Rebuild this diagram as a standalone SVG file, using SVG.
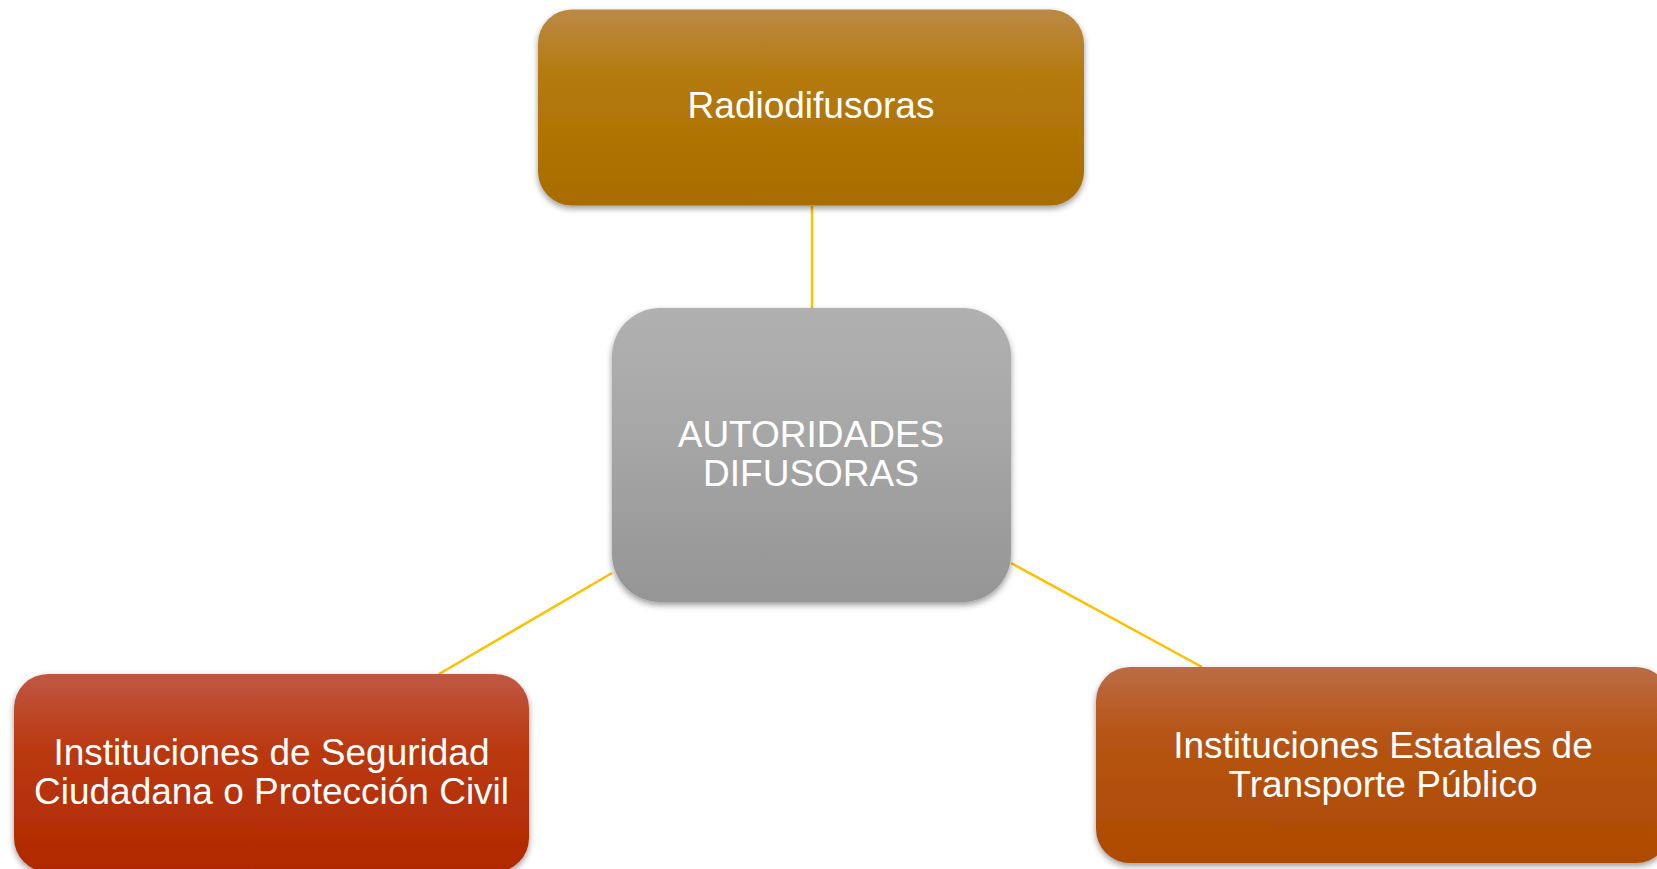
<svg xmlns="http://www.w3.org/2000/svg" width="1657" height="869" viewBox="0 0 1657 869">
<style>
.lbl{font-family:"Liberation Sans",Arial,sans-serif;font-size:37px;fill:#ffffff;text-anchor:middle}
.conn{stroke:#FFC000;stroke-width:2.5;fill:none}
</style>
<defs>
<linearGradient id="gTop" x1="0" y1="0" x2="0" y2="1">
<stop offset="0" stop-color="#BB8946"/><stop offset="0.35" stop-color="#B47A0A"/><stop offset="1" stop-color="#A86C00"/>
</linearGradient>
<linearGradient id="gMid" x1="0" y1="0" x2="0" y2="1">
<stop offset="0" stop-color="#B0B0B0"/><stop offset="0.35" stop-color="#A9A9A9"/><stop offset="1" stop-color="#959595"/>
</linearGradient>
<linearGradient id="gLeft" x1="0" y1="0" x2="0" y2="1">
<stop offset="0" stop-color="#C05844"/><stop offset="0.35" stop-color="#BB3A12"/><stop offset="1" stop-color="#B02800"/>
</linearGradient>
<linearGradient id="gRight" x1="0" y1="0" x2="0" y2="1">
<stop offset="0" stop-color="#BC6C46"/><stop offset="0.35" stop-color="#B65414"/><stop offset="1" stop-color="#AE4A00"/>
</linearGradient>
<filter id="sh" x="-10%" y="-10%" width="120%" height="130%">
<feDropShadow dx="0" dy="3" stdDeviation="3" flood-color="#000" flood-opacity="0.4"/>
</filter>
</defs>
<rect width="1657" height="869" fill="#ffffff"/>
<g id="connectors">
<line class="conn" x1="812" y1="206" x2="812" y2="309"/>
<line class="conn" x1="612" y1="573" x2="439" y2="674"/>
<line class="conn" x1="1011" y1="563" x2="1202" y2="667"/>
</g>
<g id="node-radiodifusoras">
<rect x="538" y="9.5" width="546" height="196" rx="34" fill="url(#gTop)" filter="url(#sh)"/>
<text class="lbl" x="811" y="118">Radiodifusoras</text>
</g>
<g id="node-autoridades">
<rect x="612" y="308" width="399" height="294" rx="48" fill="url(#gMid)" filter="url(#sh)"/>
<text class="lbl" x="811" y="447">AUTORIDADES</text>
<text class="lbl" x="811" y="486">DIFUSORAS</text>
</g>
<g id="node-seguridad">
<rect x="14" y="674" width="515" height="198" rx="34" fill="url(#gLeft)" filter="url(#sh)"/>
<text class="lbl" x="271.5" y="765">Instituciones de Seguridad</text>
<text class="lbl" x="271.5" y="804">Ciudadana o Protección Civil</text>
</g>
<g id="node-transporte">
<rect x="1096" y="667" width="574" height="196" rx="34" fill="url(#gRight)" filter="url(#sh)"/>
<text class="lbl" x="1383" y="758">Instituciones Estatales de</text>
<text class="lbl" x="1383" y="797">Transporte Público</text>
</g>
</svg>
